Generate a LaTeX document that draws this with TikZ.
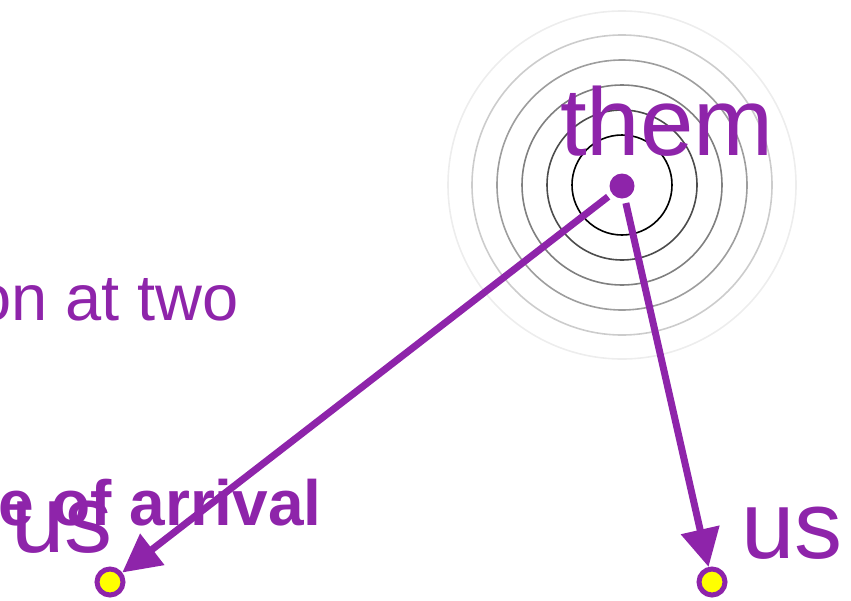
\documentclass[tikz,border=0pt]{standalone}
\usepackage{fontspec}
\setmainfont{Liberation Sans}
\usetikzlibrary{arrows.meta}
\definecolor{pur}{HTML}{8E24AA}
\definecolor{ylw}{HTML}{FFFF00}
\begin{document}
\begin{tikzpicture}[x=1pt,y=-1pt,
  ring/.style={draw=#1, line width=1.6pt},
  bigtext/.style={text=pur, inner sep=0pt, font=\fontsize{96}{96}\selectfont},
  midtext/.style={text=pur, inner sep=0pt, font=\fontsize{65}{65}\selectfont},
  boldtext/.style={text=pur, inner sep=0pt, font=\fontsize{64}{64}\selectfont\bfseries},
  srcdot/.style={circle, fill=pur, minimum size=25pt, inner sep=0pt, outer sep=0pt},
  recv/.style={circle, draw=pur, fill=ylw, line width=5pt, minimum size=26pt, inner sep=0pt},
  conn/.style={draw=pur, line width=7pt, shorten <=5pt, -{Triangle[length=38pt,width=38pt]}}]
\useasboundingbox (0,0) rectangle (851,600);
\clip (0,0) rectangle (851,600);
\coordinate (c) at (622,185);
\draw[ring={black!7}] (c) circle[radius=174pt];
\draw[ring={black!20}] (c) circle[radius=150pt];
\draw[ring={black!38}] (c) circle[radius=125pt];
\draw[ring={black!50}] (c) circle[radius=100pt];
\draw[ring={black!70}] (c) circle[radius=75pt];
\draw[ring=black] (c) circle[radius=50pt];
\node[bigtext, anchor=base west] (them) at (560,155) {them};
\node[midtext, anchor=base east] (two) at (239,320) {on at two};
\node[bigtext, anchor=base west] (usL) at (11,552) {us};
\node[bigtext, anchor=base west] (usR) at (741,558) {us};
\node[boldtext, anchor=base east] (arr) at (322,525) {e of arrival};
\node[srcdot] (src) at (622,186) {};
\node[recv] (rL) at (110,582) {};
\node[recv] (rR) at (712,582) {};
\draw[conn] (src) -- (rL);
\draw[conn] (src) -- (rR);
\end{tikzpicture}
\end{document}
